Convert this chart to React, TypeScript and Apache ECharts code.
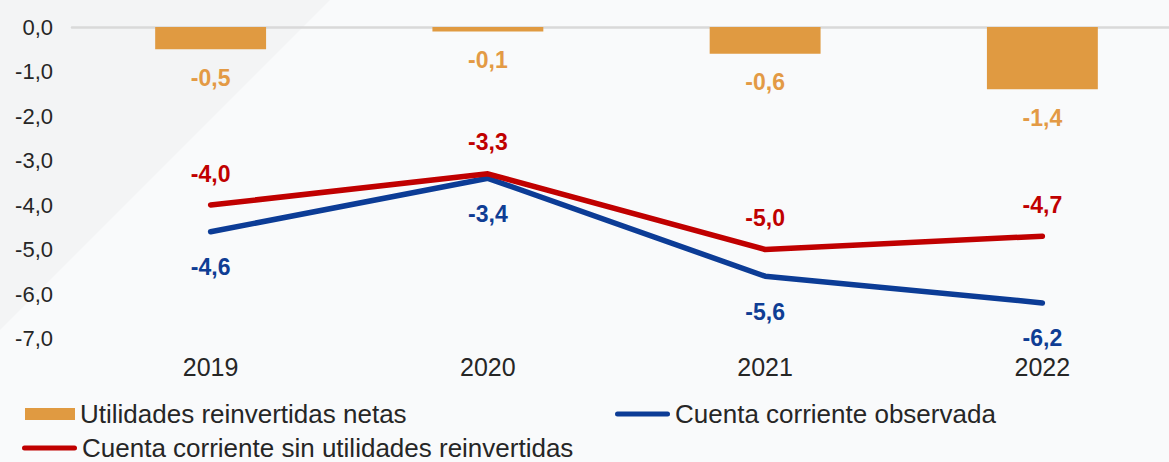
import React, { useEffect, useRef } from "react";
import * as echarts from "echarts";

const years = ["2019", "2020", "2021", "2022"];
const utilidades = [-0.5, -0.1, -0.6, -1.4];
const ccObservada = [-4.6, -3.4, -5.6, -6.2];
const ccSinUtilidades = [-4.0, -3.3, -5.0, -4.7];

const NAME_BAR = "Utilidades reinvertidas netas";
const NAME_BLUE = "Cuenta corriente observada";
const NAME_RED = "Cuenta corriente sin utilidades reinvertidas";

const ORANGE = "#E09A41";
const BLUE = "#0C3C96";
const RED = "#C00000";
const TEXT = "#262626";
const FONT = "'Liberation Sans', Arial, sans-serif";

const fmt = (v: number) => v.toFixed(1).replace(".", ",");

const capsule =
  "path://M2.5,0 L52.5,0 A2.5,2.5 0 0 1 52.5,5 L2.5,5 A2.5,2.5 0 0 1 2.5,0 Z";

export default function App() {
  const ref = useRef<HTMLDivElement>(null);
  useEffect(() => {
    if (!ref.current) return;
    const chart = echarts.init(ref.current, undefined, { renderer: "svg" });
    const labelStyle = (color: string) => ({
      color,
      fontFamily: FONT,
      fontWeight: "bold" as const,
      fontSize: 23,
    });
    const legendText = { fontSize: 26, fontFamily: FONT, color: TEXT, lineHeight: 22 };
    chart.setOption({
      animation: false,
      backgroundColor: "#F9FAFB",
      graphic: [
        {
          type: "polygon",
          z: -10,
          silent: true,
          shape: { points: [[0, 0], [330, 0], [0, 330]] },
          style: { fill: "#F3F4F5" },
        },
      ],
      grid: { left: 72, right: 0, top: 27, bottom: 123.5, containLabel: false },
      legend: [
        {
          data: [{ name: NAME_BAR, icon: "rect" }],
          left: 25,
          top: 401,
          padding: 0,
          itemWidth: 50,
          itemHeight: 12,
          selectedMode: false,
          textStyle: legendText,
        },
        {
          data: [{ name: NAME_BLUE, icon: capsule }],
          left: 615,
          top: 401,
          padding: 0,
          itemWidth: 55,
          itemHeight: 5,
          selectedMode: false,
          textStyle: legendText,
        },
        {
          data: [{ name: NAME_RED, icon: capsule }],
          left: 22,
          top: 435,
          padding: 0,
          itemWidth: 55,
          itemHeight: 5,
          selectedMode: false,
          textStyle: legendText,
        },
      ],
      xAxis: [
        {
          type: "category",
          data: years,
          position: "bottom",
          axisLine: { show: false, onZero: false },
          axisTick: { show: false },
          axisLabel: { fontSize: 25, fontFamily: FONT, color: TEXT, margin: 16 },
        },
        {
          type: "category",
          data: years,
          position: "top",
          axisLine: { show: true, onZero: false, lineStyle: { color: "#D9D9D9", width: 2.5 } },
          axisTick: { show: false },
          axisLabel: { show: false },
        },
      ],
      yAxis: {
        type: "value",
        min: -7,
        max: 0,
        interval: 1,
        axisLine: { show: false },
        axisTick: { show: false },
        splitLine: { show: false },
        axisLabel: {
          fontSize: 22,
          fontFamily: FONT,
          color: TEXT,
          margin: 19,
          formatter: (v: number) => fmt(v),
        },
      },
      series: [
        {
          name: NAME_BAR,
          type: "bar",
          data: utilidades,
          barWidth: "40%",
          itemStyle: { color: ORANGE },
          label: {
            show: true,
            position: "bottom",
            distance: 17,
            formatter: (p: any) => fmt(p.value),
            ...labelStyle("#E39A45"),
          },
        },
        {
          name: NAME_BLUE,
          type: "line",
          data: ccObservada,
          symbol: "circle",
          symbolSize: 0,
          showSymbol: true,
          lineStyle: { color: BLUE, width: 5.5, cap: "round" },
          itemStyle: { color: BLUE },
          label: {
            show: true,
            position: "bottom",
            distance: 24,
            formatter: (p: any) => fmt(p.value),
            ...labelStyle("#0F3D94"),
          },
        },
        {
          name: NAME_RED,
          type: "line",
          data: ccSinUtilidades,
          symbol: "circle",
          symbolSize: 0,
          showSymbol: true,
          lineStyle: { color: RED, width: 5.5, cap: "round" },
          itemStyle: { color: RED },
          label: {
            show: true,
            position: "top",
            distance: 20,
            formatter: (p: any) => fmt(p.value),
            ...labelStyle(RED),
          },
        },
      ],
    });
    return () => chart.dispose();
  }, []);
  return (
    <div
      style={{
        position: "absolute",
        left: 0,
        top: 0,
        width: 1169,
        height: 462,
        overflow: "hidden",
      }}
    >
      <div ref={ref} style={{ width: 1181, height: 462 }} />
    </div>
  );
}
